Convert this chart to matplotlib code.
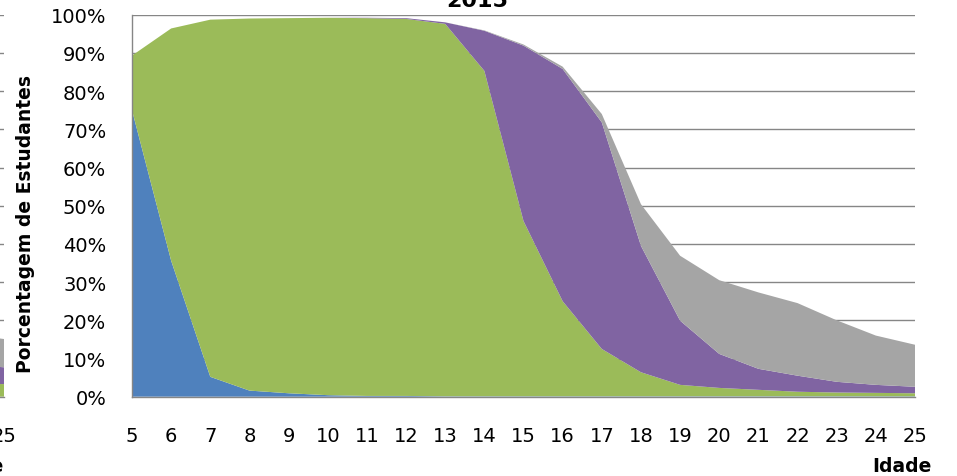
import matplotlib
matplotlib.use("Agg")
import matplotlib.pyplot as plt
import numpy as np

plt.rcParams['font.family'] = ['DejaVu Sans']

# Age groups (x axis)
idades = list(range(5, 26))

# Share of students per school level, 2015 (percent)
ensino_infantil = [75.0, 35.6, 5.2, 1.6, 0.9, 0.4, 0.2, 0.2, 0.1, 0.1, 0.1,
                   0.1, 0.1, 0.1, 0.1, 0.1, 0.1, 0.1, 0.1, 0.1, 0.1]
ensino_fundamental = [14.3, 60.8, 93.5, 97.4, 98.2, 98.8, 98.9, 98.7, 97.5, 85.2, 45.9,
                      24.9, 12.4, 6.3, 3.0, 2.2, 1.7, 1.2, 1.0, 0.9, 0.8]
ensino_medio = [0.0, 0.0, 0.0, 0.0, 0.0, 0.0, 0.1, 0.2, 0.4, 10.5, 45.9,
                60.8, 59.3, 33.1, 16.8, 8.9, 5.5, 4.2, 2.8, 2.1, 1.7]
ensino_superior = [0.0, 0.0, 0.0, 0.0, 0.0, 0.0, 0.0, 0.0, 0.0, 0.1, 0.3,
                   0.6, 2.2, 10.9, 17.0, 19.3, 20.0, 19.0, 16.1, 12.9, 11.0]

# Tail end of the neighbouring panel (previous year)
idades_anterior = [24, 25]
infantil_anterior = [0.0, 0.0]
fundamental_anterior = [3.5, 3.3]
medio_anterior = [5.0, 4.4]
superior_anterior = [8.0, 7.4]

cores = ['#4F81BD', '#9BBB59', '#8064A2', '#A5A5A5']
grid_cor = '#868686'
y_ticks = list(range(0, 101, 10))
y_ticklabels = [f"{v}%" for v in y_ticks]

W, H = 957, 477
fig = plt.figure(figsize=(W / 100, H / 100), dpi=100)


def px_rect(left, top, right, bottom):
    return [left / W, 1 - bottom / H, (right - left) / W, (bottom - top) / H]


def style_axes(ax):
    ax.set_xlim(5, 25)
    ax.set_ylim(0, 100)
    ax.grid(False)
    for s in ['top', 'right']:
        ax.spines[s].set_visible(False)
    for s in ['left', 'bottom']:
        ax.spines[s].set_color(grid_cor)
        ax.spines[s].set_linewidth(1.0)
        ax.spines[s].set_zorder(3)
    ax.set_yticks(y_ticks)
    # horizontal gridlines kept underneath the stacked areas
    ax.hlines(y_ticks[1:], 5, 25, colors=grid_cor, linewidth=1.0, zorder=0.5)


# Neighbouring panel, mostly outside the canvas
ax0 = fig.add_axes(px_rect(4 - 783, 15.7, 4, 397.7))
style_axes(ax0)
ax0.set_yticklabels([])
ax0.set_xticks([25])
ax0.set_xticklabels(['25'])
ax0.tick_params(axis='y', length=0)
ax0.tick_params(axis='x', length=0, pad=21, labelsize=14)
ax0.stackplot(idades_anterior, infantil_anterior, fundamental_anterior,
              medio_anterior, superior_anterior, colors=cores, linewidth=0,
              zorder=2)
ax0.text(1, -74 / 382, 'Idade', transform=ax0.transAxes, ha='right',
         va='baseline', fontsize=13.5, fontweight='bold', clip_on=False)

# Main panel
ax = fig.add_axes(px_rect(132, 15.7, 915, 397.7))
style_axes(ax)
ax.set_yticklabels(y_ticklabels)
ax.set_xticks(idades)
ax.set_xticklabels([str(a) for a in idades])
ax.stackplot(idades, ensino_infantil, ensino_fundamental, ensino_medio,
             ensino_superior, colors=cores, linewidth=0, zorder=2)
ax.tick_params(axis='y', length=0, pad=18.5, labelsize=14)
ax.tick_params(axis='x', length=0, pad=21, labelsize=14)

fig.text(476.7 / W, 1 - 7 / H, '2015', ha='center', va='baseline',
         fontsize=16, fontweight='bold')
fig.text(931.7 / W, 1 - 471.7 / H, 'Idade', ha='right', va='baseline',
         fontsize=13.5, fontweight='bold')
fig.text(26 / W, 1 - 224 / H, 'Porcentagem de Estudantes', rotation=90,
         ha='center', va='center', fontsize=13.5, fontweight='bold')

fig.savefig('out.png', dpi=100)
